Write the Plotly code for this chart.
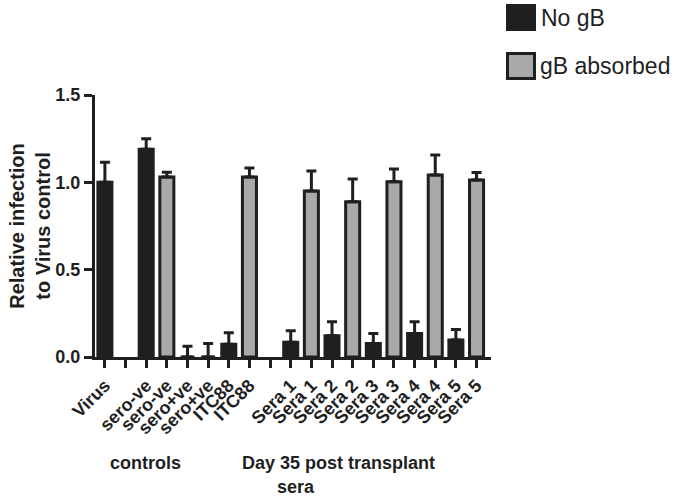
import plotly.graph_objects as go

# ---- data ----
tick_labels = ["Virus", "", "sero-ve", "sero-ve", "sero+ve", "sero+ve", "ITC88", "ITC88", "",
               "Sera 1", "Sera 1", "Sera 2", "Sera 2", "Sera 3", "Sera 3",
               "Sera 4", "Sera 4", "Sera 5", "Sera 5"]
no_gb_idx = [0, 2, 4, 6, 9, 11, 13, 15, 17]
no_gb_vals = [1.00, 1.19, 0.0, 0.073, 0.084, 0.122, 0.078, 0.135, 0.097]
no_gb_err = [0.115, 0.06, 0.062, 0.066, 0.067, 0.080, 0.057, 0.067, 0.061]
gb_idx = [3, 5, 7, 10, 12, 14, 16, 18]
gb_vals = [1.03, 0.0, 1.03, 0.95, 0.889, 1.003, 1.042, 1.013]
gb_err = [0.028, 0.078, 0.052, 0.115, 0.130, 0.073, 0.114, 0.044]
y_ticks = [0.0, 0.5, 1.0, 1.5]
y_ticktext = ["0.0", "0.5", "1.0", "1.5"]
series_names = ["No gB", "gB absorbed"]
group_labels = ["controls", "Day 35 post transplant", "sera"]

DARK = "#1f1f1f"
GRAY = "#a9a9a9"
FONT = "Liberation Sans, Arial, sans-serif"

W, H = 683, 497
L, R, T, B = 95, 192, 95, 140
PW, PH = W - L - R, H - T - B


def fx(px):
    return (px - L) / PW


def fy(py):
    return (H - B - py) / PH


fig = go.Figure()
fig.add_trace(go.Bar(
    x=no_gb_idx, y=no_gb_vals, name=series_names[0], width=0.68,
    marker=dict(color=DARK, line=dict(color=DARK, width=3)),
    error_y=dict(type="data", array=no_gb_err, arrayminus=[0] * len(no_gb_err),
                 symmetric=False, thickness=3, width=5, color=DARK),
    showlegend=False,
))
fig.add_trace(go.Bar(
    x=gb_idx, y=gb_vals, name=series_names[1], width=0.68,
    marker=dict(color=GRAY, line=dict(color=DARK, width=3)),
    error_y=dict(type="data", array=gb_err, arrayminus=[0] * len(gb_err),
                 symmetric=False, thickness=3, width=5, color=DARK),
    showlegend=False,
))

fig.update_layout(
    width=W, height=H,
    margin=dict(l=L, r=R, t=T, b=B, pad=0),
    paper_bgcolor="white", plot_bgcolor="white",
    barmode="overlay",
    font=dict(family=FONT, color=DARK),
    xaxis=dict(
        range=[-0.48, 18.7], tickmode="array",
        tickvals=list(range(len(tick_labels))), ticktext=tick_labels,
        tickangle=-45, tickfont=dict(size=18, weight="bold", color=DARK),
        ticks="outside", ticklen=8, tickwidth=3, tickcolor=DARK,
        showline=True, linewidth=3, linecolor=DARK,
        showgrid=False, zeroline=False,
    ),
    yaxis=dict(
        range=[0, 1.5], tickmode="array", tickvals=y_ticks, ticktext=y_ticktext,
        tickfont=dict(size=18, weight="bold", color=DARK),
        ticks="outside", ticklen=8, tickwidth=3, tickcolor=DARK,
        showline=True, linewidth=3, linecolor=DARK,
        showgrid=False, zeroline=False,
        title=dict(text="Relative infection<br>to Virus control",
                   font=dict(size=20, weight="bold", color=DARK), standoff=0),
    ),
)

# legend drawn manually
fig.add_shape(type="rect", xref="paper", yref="paper",
              x0=fx(506), x1=fx(536), y0=fy(31), y1=fy(4),
              fillcolor=DARK, line=dict(width=0))
fig.add_shape(type="rect", xref="paper", yref="paper",
              x0=fx(507.5), x1=fx(534.5), y0=fy(78.5), y1=fy(53.5),
              fillcolor=GRAY, line=dict(color=DARK, width=3))
fig.add_annotation(xref="paper", yref="paper", x=fx(539), y=fy(18),
                   text=series_names[0], showarrow=False, xanchor="left", yanchor="middle",
                   font=dict(size=23, color=DARK))
fig.add_annotation(xref="paper", yref="paper", x=fx(538), y=fy(66),
                   text=series_names[1], showarrow=False, xanchor="left", yanchor="middle",
                   font=dict(size=23, color=DARK))

# group labels
for txt, px, py in [(group_labels[0], 145, 463), (group_labels[1], 338, 463), (group_labels[2], 296, 487)]:
    fig.add_annotation(xref="paper", yref="paper", x=fx(px), y=fy(py), text=txt,
                       showarrow=False, xanchor="center", yanchor="middle",
                       font=dict(size=18, weight="bold", color=DARK))

fig.write_html("out.html", config={"displayModeBar": False},
               post_script="document.body.style.margin='0';document.body.style.overflow='hidden';")
